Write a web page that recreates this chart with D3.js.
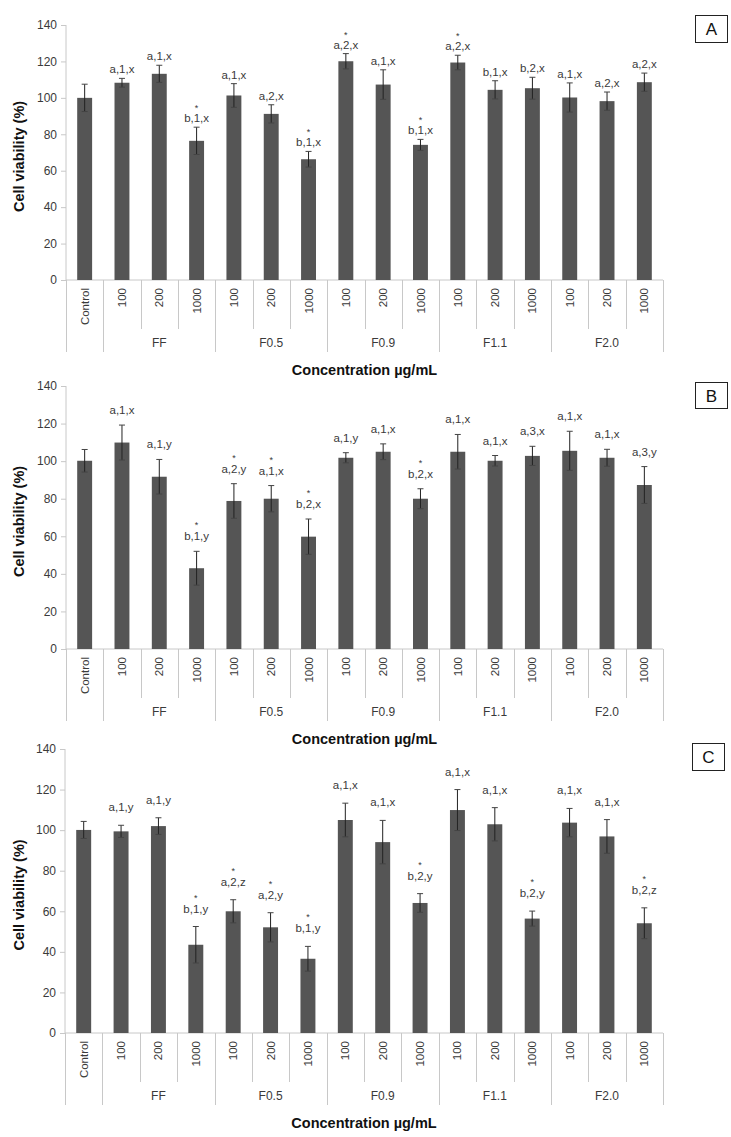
<!DOCTYPE html>
<html>
<head>
<meta charset="utf-8">
<script src="https://cdn.jsdelivr.net/npm/d3@7"></script>
<style>
  html, body { margin: 0; padding: 0; background: #fff; }
  svg { display: block; font-family: Arial, "Liberation Sans", sans-serif; }
</style>
</head>
<body>
<svg id="chart" width="731" height="1137"></svg>
<script>
// ---------- data ----------
const subLabels = ["Control","100","200","1000","100","200","1000","100","200","1000","100","200","1000","100","200","1000"];
const groupNames = ["FF","F0.5","F0.9","F1.1","F2.0"];
const yTicks = [0,20,40,60,80,100,120,140];
const yTitle = "Cell viability (%)";
const xTitle = "Concentration µg/mL";

const valuesA = [100,108.3,113.2,76.4,101.3,91.2,66.3,120.1,107.3,74.2,119.4,104.4,105.3,100.2,98.2,108.6];
const errorsA = [7.5,2.4,4.7,7.5,6.5,5,4.3,4.2,8.1,3,4,5,6,8,5,5];
const lettersA = ["","a,1,x","a,1,x","b,1,x","a,1,x","a,2,x","b,1,x","a,2,x","a,1,x","b,1,x","a,2,x","b,1,x","b,2,x","a,1,x","a,2,x","a,2,x"];
const starsA = [0,0,0,1,0,0,1,1,0,1,1,0,0,0,0,0];

const valuesB = [100.2,109.9,91.7,43,78.8,80,59.8,101.8,105,80,105,100.2,102.8,105.5,101.8,87.3];
const errorsB = [6,9.3,9.2,9,9.2,7,9.4,2.7,4.2,5.3,9.2,2.8,5.1,10.4,4.5,9.8];
const lettersB = ["","a,1,x","a,1,y","b,1,y","a,2,y","a,1,x","b,2,x","a,1,y","a,1,x","b,2,x","a,1,x","a,1,x","a,3,x","a,1,x","a,1,x","a,3,y"];
const starsB = [0,0,0,1,1,1,1,0,0,1,0,0,0,0,0,0];

const valuesC = [100.1,99.4,102,43.5,60,52.1,36.6,105,94.1,64.1,109.9,102.9,56.4,103.7,96.9,54.1];
const errorsC = [4.2,3,4.1,9,5.7,7.2,6.1,8.3,10.7,4.6,10.1,8.2,3.7,7,8.3,7.6];
const lettersC = ["","a,1,y","a,1,y","b,1,y","a,2,z","a,2,y","b,1,y","a,1,x","a,1,x","b,2,y","a,1,x","a,1,x","b,2,y","a,1,x","a,1,x","b,2,z"];
const starsC = [0,0,0,1,1,1,1,0,0,1,0,0,1,0,0,1];

// ---------- layout ----------
const panels = [
  {tag:"A", values:valuesA, errors:errorsA, letters:lettersA, stars:starsA,
   top:25, bottom:280, left:66, right:663, lblOff:5, starOff:11, box:[695,15,32,27]},
  {tag:"B", values:valuesB, errors:errorsB, letters:lettersB, stars:starsB,
   top:386, bottom:649, left:66, right:663, lblOff:11, starOff:12, box:[695,382,32,26]},
  {tag:"C", values:valuesC, errors:errorsC, letters:lettersC, stars:starsC,
   top:749, bottom:1033, left:65, right:663, lblOff:14, starOff:12, box:[692,743,32,27]}
];

const svg = d3.select("#chart");
const barColor = "#555555";
const axisColor = "#c8c8c8";
const textColor = "#3a3a3a";
const idx = d3.range(subLabels.length);

panels.forEach(p => {
  const g = svg.append("g");
  const x = d3.scaleBand().domain(idx).range([p.left, p.right]).paddingInner(0.6).paddingOuter(0.3);
  const step = x.step();
  const y = d3.scaleLinear().domain([0, 140]).range([p.bottom, p.top]);

  // y axis
  const yAxis = d3.axisLeft(y).tickValues(yTicks).tickSize(5).tickPadding(4);
  const ya = g.append("g").attr("transform", `translate(${p.left},0)`).call(yAxis);
  ya.select(".domain").attr("stroke", axisColor).attr("d", `M0,${p.top}V${p.bottom}`);
  ya.selectAll(".tick line").attr("stroke", axisColor);
  ya.selectAll(".tick text").attr("fill", textColor).style("font-size", "12px")
    .style("font-family", "Arial, 'Liberation Sans', sans-serif");

  // x axis baseline
  g.append("line").attr("x1", p.left).attr("x2", p.right)
    .attr("y1", p.bottom).attr("y2", p.bottom).attr("stroke", axisColor);

  // category boundary lines
  const boundaries = d3.range(subLabels.length + 1);
  const groupStart = [0, 1, 4, 7, 10, 13, 16];
  boundaries.forEach(b => {
    const xx = Math.round(p.left + b * step) + 0.5;
    const isGroup = groupStart.includes(b);
    g.append("line").attr("x1", xx).attr("x2", xx)
      .attr("y1", p.bottom).attr("y2", p.bottom + (isGroup ? 72 : 49))
      .attr("stroke", axisColor);
  });

  // sub labels rotated
  g.selectAll("text.sub").data(idx).join("text").attr("class", "sub")
    .attr("transform", i => `translate(${x(i) + x.bandwidth() / 2},${p.bottom + 8}) rotate(-90)`)
    .attr("text-anchor", "end").attr("dy", "0.35em")
    .attr("fill", textColor).style("font-size", "11.5px")
    .text(i => subLabels[i]);

  // group labels
  groupNames.forEach((gn, k) => {
    const cx = p.left + (groupStart[k + 1] + 1.5) * step;
    g.append("text").attr("x", cx).attr("y", p.bottom + 67)
      .attr("text-anchor", "middle").attr("fill", textColor)
      .style("font-size", "12px").text(gn);
  });

  // bars
  g.selectAll("rect.bar").data(idx).join("rect").attr("class", "bar")
    .attr("x", i => x(i)).attr("width", x.bandwidth())
    .attr("y", i => y(p.values[i])).attr("height", i => y(0) - y(p.values[i]))
    .attr("fill", barColor);

  // error bars
  idx.forEach(i => {
    const cx = x(i) + x.bandwidth() / 2;
    const hi = y(p.values[i] + p.errors[i]);
    const lo = y(p.values[i] - p.errors[i]);
    g.append("line").attr("x1", cx).attr("x2", cx).attr("y1", hi).attr("y2", lo)
      .attr("stroke", "#222").attr("stroke-width", 1);
    [hi, lo].forEach(yy => {
      g.append("line").attr("x1", cx - 3).attr("x2", cx + 3).attr("y1", yy).attr("y2", yy)
        .attr("stroke", "#444").attr("stroke-width", 1);
    });
    // letters
    if (p.letters[i]) {
      const by = hi - p.lblOff;
      g.append("text").attr("x", cx).attr("y", by).attr("text-anchor", "middle")
        .attr("fill", textColor).style("font-size", "11.5px").text(p.letters[i]);
      if (p.stars[i]) {
        g.append("text").attr("x", cx).attr("y", by - p.starOff).attr("text-anchor", "middle")
          .attr("fill", textColor).style("font-size", "9px").text("*");
      }
    }
  });

  // axis titles
  g.append("text").attr("x", (p.left + p.right) / 2).attr("y", p.bottom + 95)
    .attr("text-anchor", "middle").attr("fill", "#111")
    .style("font-size", "14.5px").style("font-weight", "bold").text(xTitle);
  g.append("text")
    .attr("transform", `translate(24,${(p.top + p.bottom) / 2 + 4}) rotate(-90)`)
    .attr("text-anchor", "middle").attr("fill", "#111")
    .style("font-size", "14.5px").style("font-weight", "bold").text(yTitle);

  // panel tag box
  const [bx, by, bw, bh] = p.box;
  g.append("rect").attr("x", bx + 0.5).attr("y", by + 0.5).attr("width", bw).attr("height", bh)
    .attr("fill", "#fff").attr("stroke", "#222").attr("stroke-width", 1);
  g.append("text").attr("x", bx + bw / 2 + 0.5).attr("y", by + bh / 2 + 0.5)
    .attr("dy", "0.36em").attr("text-anchor", "middle").attr("fill", "#111")
    .style("font-size", "17px").text(p.tag);
});
</script>
</body>
</html>
